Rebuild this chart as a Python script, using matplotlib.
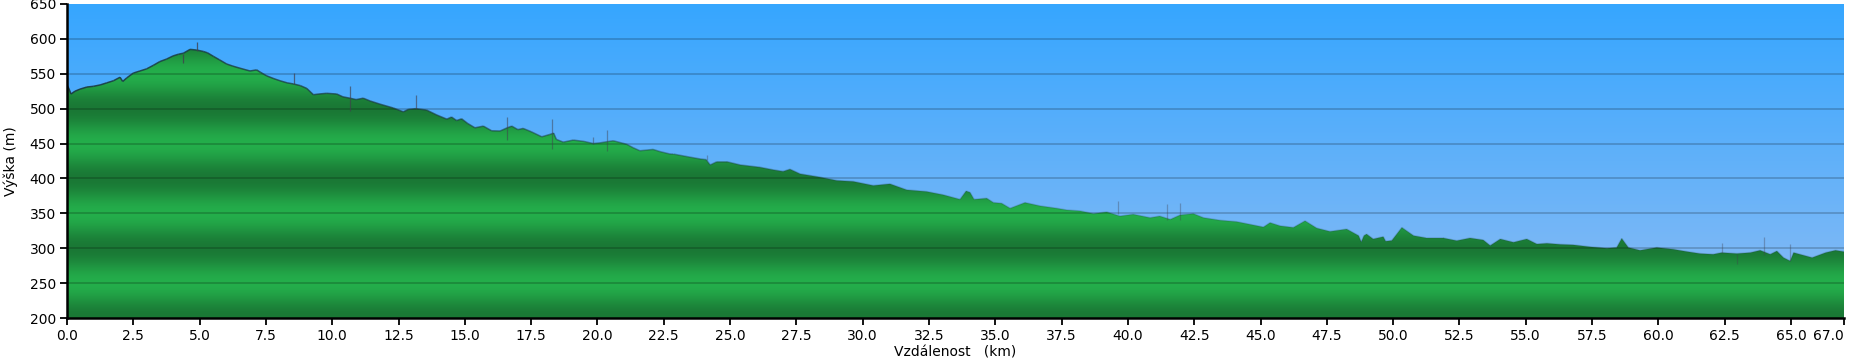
import numpy as np
import matplotlib
matplotlib.use("Agg")
import matplotlib.pyplot as plt
from matplotlib.patches import Polygon
from matplotlib.collections import LineCollection
from matplotlib.colors import to_rgb

# profil trasy: vzdálenost (km) a výška (m)
vzdalenost = [
    0.0, 0.08, 0.15, 0.3, 0.49, 0.75, 0.99, 1.25, 1.5, 1.75, 2.0, 2.1, 2.25, 2.5, 2.75,
    3.0, 3.25, 3.5, 3.75, 4.0, 4.2, 4.39, 4.64, 4.89, 5.14, 5.3, 5.52, 5.75, 6.02, 6.25,
    6.52, 6.9, 7.15, 7.3, 7.53, 7.8, 8.03, 8.3, 8.53, 8.8, 9.04, 9.29, 9.5, 9.79, 10.17,
    10.4, 10.67, 10.9, 11.17, 11.43, 11.8, 12.3, 12.68, 12.87, 13.15, 13.56, 13.94, 14.32,
    14.5, 14.69, 14.88, 15.1, 15.38, 15.7, 16.01, 16.33, 16.6, 16.77, 17.0, 17.2, 17.5,
    17.9, 18.2, 18.35, 18.45, 18.71, 19.09, 19.5, 19.84, 20.1, 20.35, 20.6, 21.1, 21.35,
    21.6, 22.1, 22.36, 22.74, 22.86, 23.37, 23.87, 24.1, 24.25, 24.5, 24.88, 25.38, 26.13,
    26.63, 27.0, 27.26, 27.64, 28.39, 29.02, 29.65, 30.4, 31.03, 31.66, 32.41, 33.04,
    33.67, 33.9, 34.05, 34.2, 34.68, 34.93, 35.24, 35.56, 36.12, 36.69, 37.32, 37.69,
    38.2, 38.7, 39.2, 39.7, 40.2, 40.84, 41.2, 41.6, 41.97, 42.47, 42.85, 43.48, 44.1,
    44.73, 45.11, 45.36, 45.74, 46.24, 46.68, 47.12, 47.62, 48.25, 48.7, 48.8, 48.9, 49.0,
    49.25, 49.63, 49.72, 49.95, 50.33, 50.77, 51.27, 51.9, 52.4, 52.9, 53.4, 53.66, 54.04,
    54.54, 55.04, 55.42, 55.8, 56.3, 56.79, 57.42, 58.06, 58.43, 58.62, 58.87, 59.31,
    59.94, 60.56, 61.07, 61.57, 62.07, 62.39, 62.96, 63.47, 63.84, 64.22, 64.47, 64.72,
    64.97, 65.1, 65.8, 66.31, 66.68, 67.0,
]
vyska = [
    534, 528, 521, 525, 528, 531, 532, 534, 537, 540, 545, 539, 544, 551, 554,
    557, 562, 567.5, 571, 575.6, 578, 579.5, 585, 584, 582, 580, 575, 570, 564, 561,
    558, 554, 555.6, 552, 547, 543, 540, 537, 535.5, 533, 529, 520, 521, 522, 521,
    517, 515, 513, 515, 511, 506.5, 501, 495.5, 499, 500, 498, 491, 485,
    488, 483, 485.5, 479, 472.6, 475, 468.3, 468, 472.6, 475, 470, 471.7, 467,
    459.7, 463, 465, 456, 452, 455, 453, 450, 451, 452.6, 454, 449, 444,
    439.7, 441.6, 438.5, 435, 435, 431.4, 428, 427, 419.4, 424, 424, 419.4, 416,
    412.3, 410, 413.2, 406.5, 401.8, 397, 395.6, 389.8, 392.2, 383.6, 381.2, 376.5,
    370, 382, 380, 370, 371.6, 365.4, 364.4, 357.2, 365.4, 360.6, 357.2, 354.8,
    353.4, 349.5, 352, 346, 348.6, 343.7, 346, 341.3, 347.6, 349.5, 343.7, 340, 338,
    333.2, 330.3, 336.6, 332, 329.7, 339.2, 328.8, 324, 327.4, 318, 309, 318, 320.3,
    313.2, 316.5, 310, 311, 329.7, 318, 314.6, 314.6, 310.8, 314.6, 311.8, 303.8, 313.2,
    308.5, 313.2, 306, 307, 305.5, 304.8, 302, 300, 301, 314, 301, 297,
    301, 298.5, 295.2, 292.3, 291.3, 293.7, 292.3, 293.7, 297, 291.3, 296, 286.5,
    281.7, 293.7, 286.5, 293.7, 297, 295,
]

# výkyvy GPS (km, horní, dolní)
spicky_km = [4.39, 4.89, 8.56, 10.67, 13.15, 16.6, 18.28, 19.84, 20.35, 24.12,
             39.64, 41.46, 41.97, 62.39, 62.96, 64.0, 64.97]
spicky_hore = [579, 596, 551, 532, 519, 488, 484.6, 459.7, 470, 433.8,
               367.8, 363, 365.4, 308, 292, 316, 306]
spicky_dole = [566, 583, 535, 497, 500, 455, 441.6, 450, 439.7, 426,
               349.5, 341, 340, 293, 277, 291, 281]

x_ticks = [0.0, 2.5, 5.0, 7.5, 10.0, 12.5, 15.0, 17.5, 20.0, 22.5, 25.0, 27.5, 30.0,
           32.5, 35.0, 37.5, 40.0, 42.5, 45.0, 47.5, 50.0, 52.5, 55.0, 57.5, 60.0,
           62.5, 65.0, 67.0]
y_ticks = [200, 250, 300, 350, 400, 450, 500, 550, 600, 650]

x_max = 67.0
y_min, y_max = 200, 650

fig = plt.figure(figsize=(18.5, 3.62), dpi=100)
ax = fig.add_axes([67 / 1850, 1 - 318 / 362, (1844 - 67) / 1850, (318 - 4) / 362])

# obloha - svislý přechod
hodnoty = np.linspace(y_min, y_max, 400)
spodek = np.array(to_rgb("#8cbcf4"))
vrch = np.array(to_rgb("#36a6ff"))
t = ((hodnoty - y_min) / (y_max - y_min))[:, None]
obloha = (spodek * (1 - t) + vrch * t)[:, None, :]
ax.imshow(obloha, extent=[0, x_max, y_min, y_max], origin="lower", aspect="auto", zorder=0)

# terén - pruhy po 100 m
tmava = np.array(to_rgb("#1a7835"))
svetla = np.array(to_rgb("#24ae4b"))
f = (0.5 - 0.5 * np.cos(2 * np.pi * (hodnoty - y_min) / 100))[:, None]
teren = (tmava * (1 - f) + svetla * f)[:, None, :]
im = ax.imshow(teren, extent=[0, x_max, y_min, y_max], origin="lower", aspect="auto", zorder=1)

body = np.column_stack([[vzdalenost[0]] + vzdalenost + [vzdalenost[-1]],
                        [y_min] + vyska + [y_min]])
obrys = Polygon(body, closed=True, facecolor="none", edgecolor="none")
ax.add_patch(obrys)
im.set_clip_path(obrys)

# mřížka
for y in y_ticks[1:-1]:
    ax.axhline(y, color="black", alpha=0.2, lw=1.3, zorder=2)

# čára profilu - slábne směrem doprava
xs = np.array(vzdalenost)
ys = np.array(vyska)
segs = np.stack([np.column_stack([xs[:-1], ys[:-1]]), np.column_stack([xs[1:], ys[1:]])], axis=1)
alfa = np.clip(0.9 - xs[:-1] / 45, 0.2, 0.9)
barvy = [(0.1, 0.22, 0.25, a) for a in alfa]
ax.add_collection(LineCollection(segs, colors=barvy, linewidths=1.1, zorder=3))

for k, h, d in zip(spicky_km, spicky_hore, spicky_dole):
    a = max(0.9 - k / 45, 0.35)
    ax.vlines(k, d, h, color=(0.25, 0.25, 0.3, a), lw=0.9, zorder=3)

ax.set_xlim(0, x_max)
ax.set_ylim(y_min, y_max)
ax.set_xticks(x_ticks)
ax.set_xticklabels([f"{v:.1f}" for v in x_ticks])
ax.get_xticklabels()[-1].set_horizontalalignment("right")
ax.set_yticks(y_ticks)
ax.tick_params(direction="out", length=5, width=1.3, labelsize=10, colors="black", pad=3)
for s in ["top", "right"]:
    ax.spines[s].set_visible(False)
for s in ["left", "bottom"]:
    ax.spines[s].set_linewidth(1.8)
    ax.spines[s].set_zorder(5)

ax.set_xlabel("Vzdálenost   (km)", fontsize=10, labelpad=2)
ax.set_ylabel("Výška (m)", fontsize=10, labelpad=8)

fig.savefig("out.png", dpi=100)
